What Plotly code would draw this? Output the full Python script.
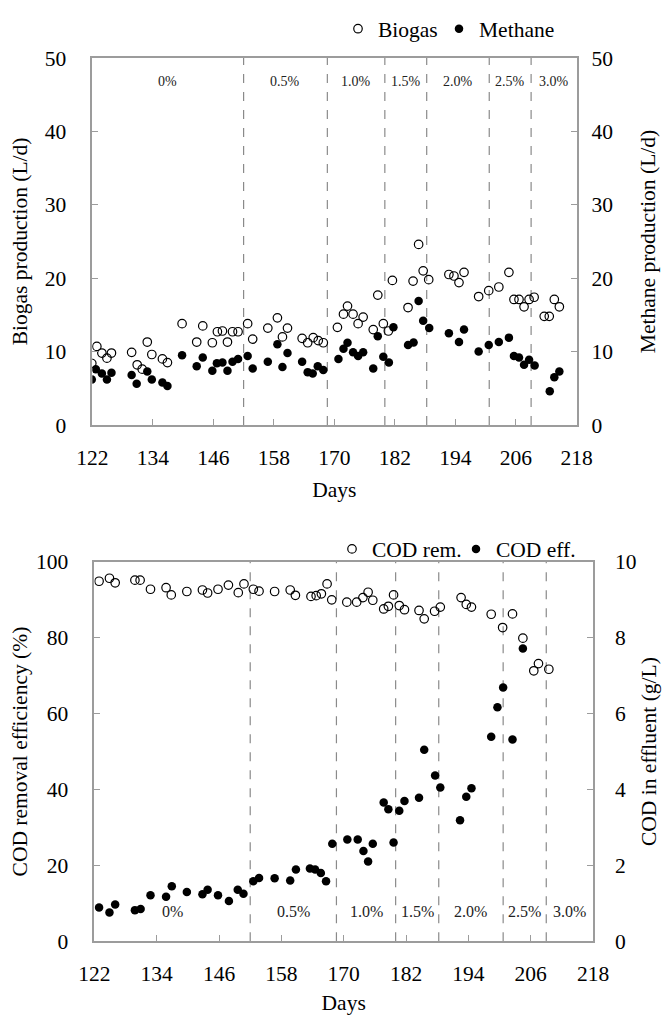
import plotly.graph_objects as go

# ---------------- data ----------------
days_biogas = [121.9, 122.9, 123.9, 124.9, 125.8, 129.8, 130.9, 131.9, 132.9, 133.8, 135.9, 136.9,
               139.8, 142.7, 143.9, 145.8, 146.8, 147.8, 148.8, 149.8, 150.9, 152.8, 153.8,
               156.8, 158.7, 159.7, 160.7, 163.6, 164.7, 165.8, 166.8, 167.8,
               170.6, 171.8, 172.6, 173.7, 174.7, 175.7, 177.7, 178.6, 179.7, 180.7, 181.5,
               184.6, 185.6, 186.7, 187.6, 188.7, 192.7, 193.7, 194.7, 195.7, 198.6, 200.6,
               202.6, 204.6, 205.6, 206.6, 207.6, 208.6, 209.6, 211.6, 212.6, 213.6, 214.6]
biogas = [8.4, 10.7, 9.8, 9.1, 9.8, 9.9, 8.2, 7.6, 11.3, 9.6, 9.0, 8.5,
          13.8, 11.3, 13.5, 11.2, 12.7, 12.8, 11.3, 12.7, 12.7, 13.8, 11.7,
          13.2, 14.6, 12.0, 13.2, 11.8, 11.2, 11.9, 11.5, 11.2,
          13.3, 15.1, 16.2, 15.1, 13.8, 14.7, 13.0, 17.7, 13.8, 12.8, 19.7,
          16.0, 19.6, 24.6, 21.0, 19.8, 20.5, 20.3, 19.4, 20.8, 17.5, 18.3,
          18.8, 20.8, 17.1, 17.1, 16.1, 17.1, 17.4, 14.8, 14.8, 17.1, 16.1]

days_methane = [121.9, 122.7, 123.9, 124.9, 125.8, 129.8, 130.8, 132.9, 133.8, 135.9, 136.9,
                139.8, 142.7, 143.9, 145.8, 146.7, 147.8, 148.8, 149.8, 150.9, 152.8, 153.8,
                156.8, 158.7, 159.7, 160.7, 163.6, 164.7, 165.7, 166.7, 167.8,
                170.8, 171.8, 172.6, 173.7, 174.7, 175.7, 177.7, 178.6, 179.7, 180.8, 181.7,
                184.6, 185.7, 186.7, 187.6, 188.8, 192.7, 194.7, 195.7, 198.6, 200.6,
                202.6, 204.6, 205.6, 206.6, 207.6, 208.6, 209.7, 212.7, 213.6, 214.6]
methane = [6.2, 7.6, 7.0, 6.2, 7.1, 6.8, 5.6, 7.3, 6.2, 5.8, 5.3,
           9.5, 8.0, 9.2, 7.4, 8.4, 8.5, 7.4, 8.6, 9.0, 9.4, 7.7,
           8.6, 11.0, 7.9, 9.8, 8.6, 7.2, 7.0, 8.0, 7.5,
           9.0, 10.4, 11.2, 9.9, 9.4, 9.9, 7.7, 12.1, 9.3, 8.5, 13.3,
           10.9, 11.25, 16.9, 14.2, 13.2, 12.5, 11.3, 13.0, 10.0, 10.9,
           11.3, 11.9, 9.4, 9.2, 8.2, 8.9, 8.1, 4.6, 6.5, 7.3]

days_cod_rem = [122.9, 124.9, 126.0, 129.8, 130.8, 132.8, 135.8, 136.8, 139.8, 142.8, 143.8,
                145.8, 147.8, 149.7, 150.8, 152.6, 153.7, 156.7, 159.7, 160.7, 163.7, 164.7,
                165.7, 166.8, 167.7, 170.6, 172.5, 173.7, 174.7, 175.6, 177.7, 178.6, 179.6,
                180.7, 181.7, 184.5, 185.5, 187.5, 188.6, 192.6, 193.6, 194.6, 198.4, 200.6,
                202.5, 204.5, 206.6, 207.5, 209.5]
cod_rem = [94.9, 95.7, 94.5, 95.2, 95.2, 92.8, 93.2, 91.3, 92.2, 92.6, 91.8,
           92.8, 93.9, 91.9, 94.2, 92.8, 92.3, 92.2, 92.6, 91.2, 90.9, 91.1,
           91.6, 94.2, 90.0, 89.4, 89.4, 90.6, 92.0, 89.9, 87.6, 88.3, 91.3,
           88.5, 87.4, 87.2, 85.0, 87.0, 88.1, 90.6, 88.8, 88.1, 86.2, 82.7,
           86.3, 79.9, 71.3, 73.2, 71.7]

days_cod_eff = [122.9, 124.9, 126.0, 129.8, 130.9, 132.8, 135.8, 136.9, 139.8, 142.8, 143.8,
                145.8, 147.9, 149.6, 150.7, 152.6, 153.7, 156.7, 159.7, 160.8, 163.5, 164.5,
                165.6, 166.6, 167.8, 170.7, 172.7, 173.8, 174.7, 175.6, 177.7, 178.6, 179.6,
                180.7, 181.7, 184.5, 185.5, 187.6, 188.6, 192.4, 193.6, 194.6, 198.4, 199.6,
                200.7, 202.5, 204.5]
cod_eff = [0.89, 0.76, 0.97, 0.82, 0.85, 1.21, 1.17, 1.45, 1.30, 1.24, 1.36,
           1.21, 1.06, 1.36, 1.25, 1.58, 1.67, 1.66, 1.60, 1.89, 1.92, 1.89,
           1.80, 1.58, 2.57, 2.68, 2.68, 2.38, 2.10, 2.57, 3.66, 3.48, 2.60,
           3.44, 3.70, 3.78, 5.05, 4.37, 4.05, 3.19, 3.81, 4.03, 5.39, 6.17,
           6.69, 5.32, 7.72]

phase_bounds = [152.0, 168.6, 180.0, 188.3, 200.7, 209.0]
phase_labels = ["0%", "0.5%", "1.0%", "1.5%", "2.0%", "2.5%", "3.0%"]
day_start, day_end = 122, 218
x_tick_vals = list(range(122, 219, 12))

# ---------------- styling ----------------
W, H = 670, 1015
OFF = 8  # default page margin of the browser body
FONT = "Liberation Serif"
AX = "#9c9c9c"
FS = 21.5
TICKF = dict(family=FONT, size=FS, color="black")
TITLEF = dict(family=FONT, size=FS, color="black")


def ox(p):
    return (p - OFF) / W


def oy(p):
    return 1 - (p - OFF) / H


fig = go.Figure()

mk_open = dict(symbol="circle-open", size=8.5, color="black", line=dict(width=1.2, color="black"))
mk_fill = dict(symbol="circle", size=8.5, color="black", line=dict(width=0))

fig.add_trace(go.Scatter(x=days_biogas, y=biogas, mode="markers", name="Biogas",
                         marker=mk_open, xaxis="x", yaxis="y", legend="legend"))
fig.add_trace(go.Scatter(x=days_methane, y=methane, mode="markers", name="Methane",
                         marker=mk_fill, xaxis="x", yaxis="y2", legend="legend2"))
fig.add_trace(go.Scatter(x=days_cod_rem, y=cod_rem, mode="markers", name="COD rem.",
                         marker=mk_open, xaxis="x2", yaxis="y3", legend="legend3"))
fig.add_trace(go.Scatter(x=days_cod_eff, y=cod_eff, mode="markers", name="COD eff.",
                         marker=mk_fill, xaxis="x2", yaxis="y4", legend="legend4"))

common_x = dict(range=[day_start, day_end], tickvals=x_tick_vals, ticks="inside", ticklen=6,
                tickcolor=AX, showline=True, linecolor=AX, linewidth=1.5, mirror=True,
                showgrid=False, zeroline=False, tickfont=TICKF, ticklabelstandoff=12,
                automargin=False)
common_y = dict(ticks="inside", ticklen=6, tickcolor=AX, showline=True, linecolor=AX,
                linewidth=1.5, showgrid=False, zeroline=False, tickfont=TICKF,
                automargin=False)


def leg(left_px, top_px):
    return dict(orientation="h", x=ox(left_px), xanchor="left", y=oy(top_px), yanchor="top",
                font=dict(family=FONT, size=FS, color="black"), bgcolor="rgba(0,0,0,0)",
                itemclick=False)


fig.update_layout(
    width=W, height=H, margin=dict(l=0, r=0, t=0, b=0),
    font=dict(family=FONT, color="black"),
    paper_bgcolor="white", plot_bgcolor="white",
    xaxis=dict(domain=[ox(92.3), ox(576.5)], anchor="y",
               title=dict(text="Days", font=TITLEF, standoff=13), **common_x),
    yaxis=dict(domain=[oy(416), oy(43.5)], anchor="x", range=[0, 50], dtick=10,
               ticklabelstandoff=20,
               title=dict(text="Biogas production (L/d)", font=TITLEF, standoff=12),
               **common_y),
    yaxis2=dict(overlaying="y", side="right", anchor="x", range=[0, 50], dtick=10,
                ticklabelstandoff=9,
                title=dict(text="Methane production (L/d)", font=TITLEF, standoff=28),
                **common_y),
    xaxis2=dict(domain=[ox(94.4), ox(593)], anchor="y3",
                title=dict(text="Days", font=TITLEF, standoff=10), **common_x),
    yaxis3=dict(domain=[oy(940), oy(555)], anchor="x2", range=[0, 100], dtick=20,
                ticklabelstandoff=20,
                title=dict(text="COD removal efficiency (%)", font=TITLEF, standoff=7),
                **common_y),
    yaxis4=dict(overlaying="y3", side="right", anchor="x2", range=[0, 10], dtick=2,
                ticklabelstandoff=16,
                title=dict(text="COD in effluent (g/L)", font=TITLEF, standoff=5),
                **common_y),
    legend=leg(338, -7),
    legend2=leg(439, -7),
    legend3=leg(332, 521),
    legend4=leg(456, 521),
    showlegend=True,
)

# phase boundaries (dashed) and phase labels
edges = [day_start] + phase_bounds + [day_end]
mids = [(edges[i] + edges[i + 1]) / 2 for i in range(len(edges) - 1)]
for xr, yr in (("x", "y"), ("x2", "y3")):
    for b in phase_bounds:
        fig.add_shape(type="line", xref=xr, yref=yr + " domain", x0=b, x1=b, y0=0, y1=1,
                      line=dict(color="#8a8a8a", width=1.2, dash="dash"), layer="below")

for m, lab in zip(mids, phase_labels):
    fig.add_annotation(x=m, y=0.962, xref="x", yref="y domain", text=lab, showarrow=False,
                       font=dict(family=FONT, size=14, color="#222"))
    fig.add_annotation(x=m, y=0.052, xref="x2", yref="y3 domain", text=lab, showarrow=False,
                       font=dict(family=FONT, size=16, color="#222"))

fig.write_html("out.html")
